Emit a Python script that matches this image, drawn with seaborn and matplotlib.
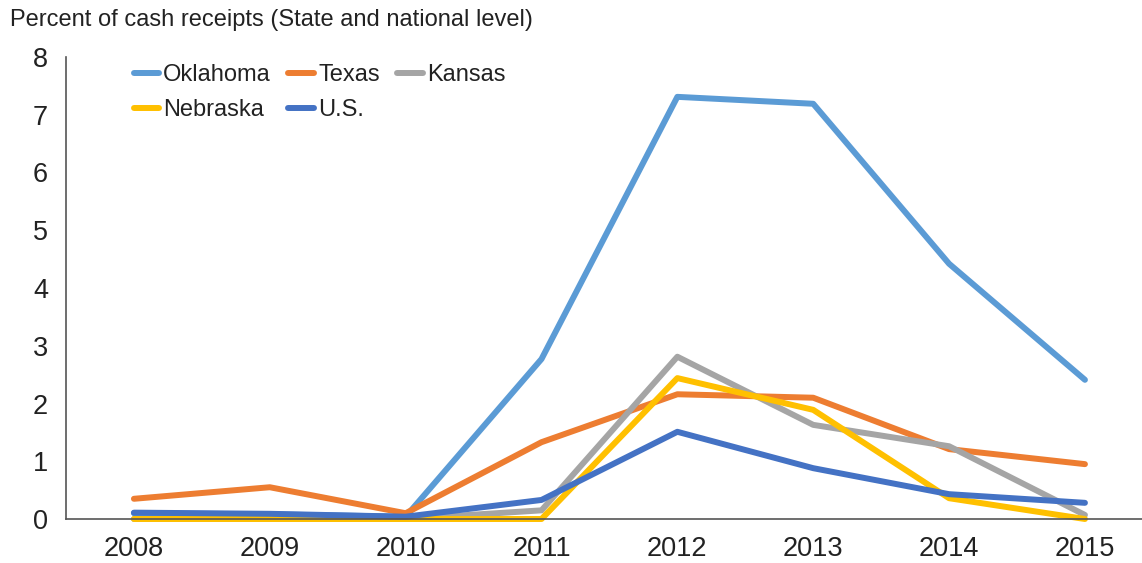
import pandas as pd
import matplotlib.pyplot as plt
import seaborn as sns

years = ["2008", "2009", "2010", "2011", "2012", "2013", "2014", "2015"]
oklahoma = [0.10, 0.08, 0.04, 2.77, 7.31, 7.19, 4.42, 2.41]
texas = [0.35, 0.55, 0.10, 1.33, 2.16, 2.10, 1.21, 0.95]
kansas = [0.0, 0.0, 0.0, 0.15, 2.81, 1.63, 1.26, 0.07]
nebraska = [0.0, 0.0, 0.0, 0.0, 2.44, 1.89, 0.36, 0.0]
us = [0.11, 0.09, 0.04, 0.33, 1.51, 0.88, 0.43, 0.28]

series = {"Oklahoma": oklahoma, "Texas": texas, "Kansas": kansas,
          "Nebraska": nebraska, "U.S.": us}
colors = {"Oklahoma": "#5B9BD5", "Texas": "#ED7D31", "Kansas": "#A5A5A5",
          "Nebraska": "#FFC000", "U.S.": "#4472C4"}

rows = []
for name, vals in series.items():
    for i, v in enumerate(vals):
        rows.append({"pos": i, "year": years[i], "state": name, "value": v})
df = pd.DataFrame(rows)

sns.set_style("white")
plt.rcParams['font.family'] = ['Liberation Sans', 'DejaVu Sans']

fig = plt.figure(figsize=(11.42, 5.63), dpi=100)
ax = fig.add_axes([66 / 1142, 1 - 519 / 563, 1 - 66 / 1142, (519 - 57) / 563])

sns.lineplot(data=df, x="pos", y="value", hue="state", palette=colors,
             hue_order=list(series.keys()), linewidth=4.3, ax=ax,
             solid_capstyle="round", clip_on=False)

ax.set_xlim(-0.5, 7.42)
ax.set_ylim(0, 8)
ax.set_xticks(range(len(years)))
ax.set_xticklabels(years)
ax.set_yticks(range(0, 9))
ax.set_xlabel("")
ax.set_ylabel("")
for s in ["top", "right"]:
    ax.spines[s].set_visible(False)
for s in ["left", "bottom"]:
    ax.spines[s].set_color("#555555")
    ax.spines[s].set_linewidth(1.2)
ax.tick_params(axis="x", direction="in", length=7, width=1, color="#222222",
               labelsize=19.5, pad=12, labelcolor="#222222")
ax.tick_params(axis="y", direction="out", length=5, width=1, color="#555555",
               labelsize=19.5, pad=8, labelcolor="#222222")

# legend filled row by row, like the original
handles, labels = ax.get_legend_handles_labels()
lookup = dict(zip(labels, handles))
order = ["Oklahoma", "Nebraska", "Texas", "U.S.", "Kansas"]
leg = ax.legend([lookup[k] for k in order], order, ncol=3, frameon=False,
                fontsize=17, handlelength=1.1, handletextpad=0.15,
                columnspacing=0.75, labelspacing=0.55, loc="upper left",
                bbox_to_anchor=(0.043, 1.03))
for t in leg.get_texts():
    t.set_color("#222222")
for h in leg.get_lines():
    h.set_solid_capstyle("round")

fig.text(10 / 1142, 1 - 20 / 563, "Percent of cash receipts (State and national level)",
         fontsize=17, color="#222222", va="center", ha="left")

fig.savefig("out.png", dpi=100)
